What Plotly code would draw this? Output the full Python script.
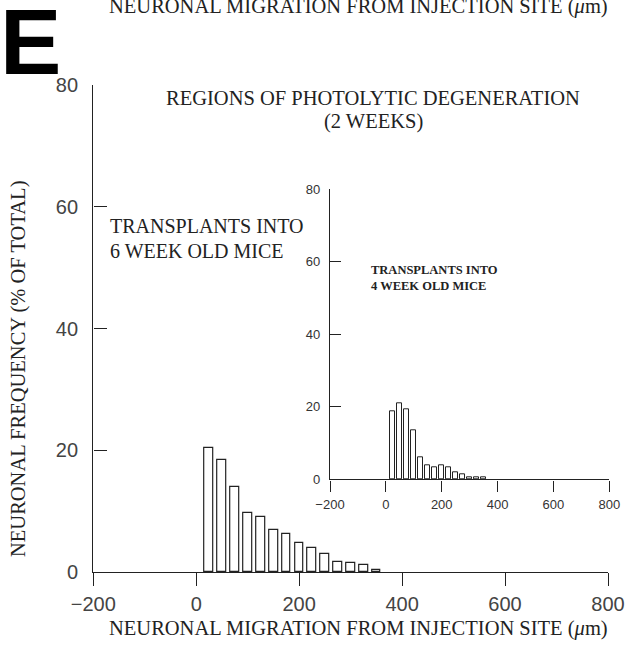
import plotly.graph_objects as go

W, H = 626, 669

# Data
main_centers = [25, 50, 75, 100, 125, 150, 175, 200, 225, 250, 275, 300, 325, 350]
main_values = [20.4, 18.4, 14.0, 9.7, 9.1, 6.95, 6.2, 4.8, 3.9, 2.95, 1.64, 1.43, 1.1, 0.35]
inset_centers = [25, 50, 75, 100, 125, 150, 175, 200, 225, 250, 275, 300, 325, 350]
inset_values = [18.8, 20.9, 19.2, 13.6, 6.1, 3.8, 3.3, 4.0, 3.3, 1.9, 1.5, 0.6, 0.6, 0.5]
x_ticks = [-200, 0, 200, 400, 600, 800]
y_ticks = [0, 20, 40, 60, 80]

SERIF = "Liberation Serif, Times New Roman, serif"
SANS = "Liberation Sans, Arial, sans-serif"


def px(x):
    return x / W


def py(y):
    return 1 - y / H


fig = go.Figure()
fig.add_trace(go.Bar(x=main_centers, y=main_values, width=17,
                     marker=dict(color="white", line=dict(color="#222", width=1.2)),
                     xaxis="x", yaxis="y", showlegend=False))
fig.add_trace(go.Bar(x=inset_centers, y=inset_values, width=18,
                     marker=dict(color="white", line=dict(color="#222", width=1)),
                     xaxis="x2", yaxis="y2", showlegend=False))

axis_common = dict(showgrid=False, zeroline=False, showline=True, linecolor="#222",
                   linewidth=1.4, tickcolor="#222", tickwidth=1.4, automargin=False)

fig.update_layout(
    width=W, height=H, margin=dict(l=0, r=0, t=0, b=0, autoexpand=False),
    paper_bgcolor="white", plot_bgcolor="rgba(0,0,0,0)",
    bargap=0,
    xaxis=dict(domain=[px(93.3), px(608)], range=[-200, 800], tickvals=x_ticks,
               ticks="outside", ticklen=13, anchor="y", ticklabelstandoff=1,
               tickfont=dict(family=SANS, size=20, color="#444"), **axis_common),
    yaxis=dict(domain=[py(572), py(85)], range=[0, 80], tickvals=y_ticks,
               ticks="inside", ticklen=13, anchor="x", ticklabelstandoff=10,
               tickfont=dict(family=SANS, size=20, color="#444"), **axis_common),
    xaxis2=dict(domain=[px(330), px(609.3)], range=[-200, 800], tickvals=x_ticks,
                ticks="outside", ticklen=11, anchor="y2", ticklabelstandoff=2,
                tickfont=dict(family=SANS, size=13, color="#333"), **axis_common),
    yaxis2=dict(domain=[py(479.3), py(189.3)], range=[0, 80], tickvals=y_ticks,
                ticks="inside", ticklen=11, anchor="x2", ticklabelstandoff=6,
                tickfont=dict(family=SANS, size=13, color="#333"), **axis_common),
)

ann = []


def text(x, y, s, size, family=SERIF, xanchor="center", yanchor="middle", angle=0, color="#222"):
    ann.append(dict(x=px(x), y=py(y), xref="paper", yref="paper", text=s, showarrow=False,
                    xanchor=xanchor, yanchor=yanchor, textangle=angle,
                    font=dict(family=family, size=size, color=color)))


text(358, 6, "NEURONAL MIGRATION FROM INJECTION SITE (<i>μ</i>m)", 20.5)
text(358, 628, "NEURONAL MIGRATION FROM INJECTION SITE (<i>μ</i>m)", 20.5)
text(18, 369, "NEURONAL FREQUENCY (% OF TOTAL)", 20.5, angle=-90)
text(373, 98, "REGIONS OF PHOTOLYTIC DEGENERATION", 20.5)
text(373, 121, "(2 WEEKS)", 20.5)
text(108, 226, "TRANSPLANTS INTO", 20, xanchor="left")
text(108, 251, "6 WEEK OLD MICE", 20, xanchor="left")
text(369, 270, "<b>TRANSPLANTS INTO</b>", 12.5, xanchor="left")
text(369, 286, "<b>4 WEEK OLD MICE</b>", 12.5, xanchor="left")
text(30, 42, "<b>E</b>", 92, family="Liberation Sans Narrow, Liberation Sans, Arial", color="#000")

fig.update_layout(annotations=ann)
fig.write_html("out.html")
